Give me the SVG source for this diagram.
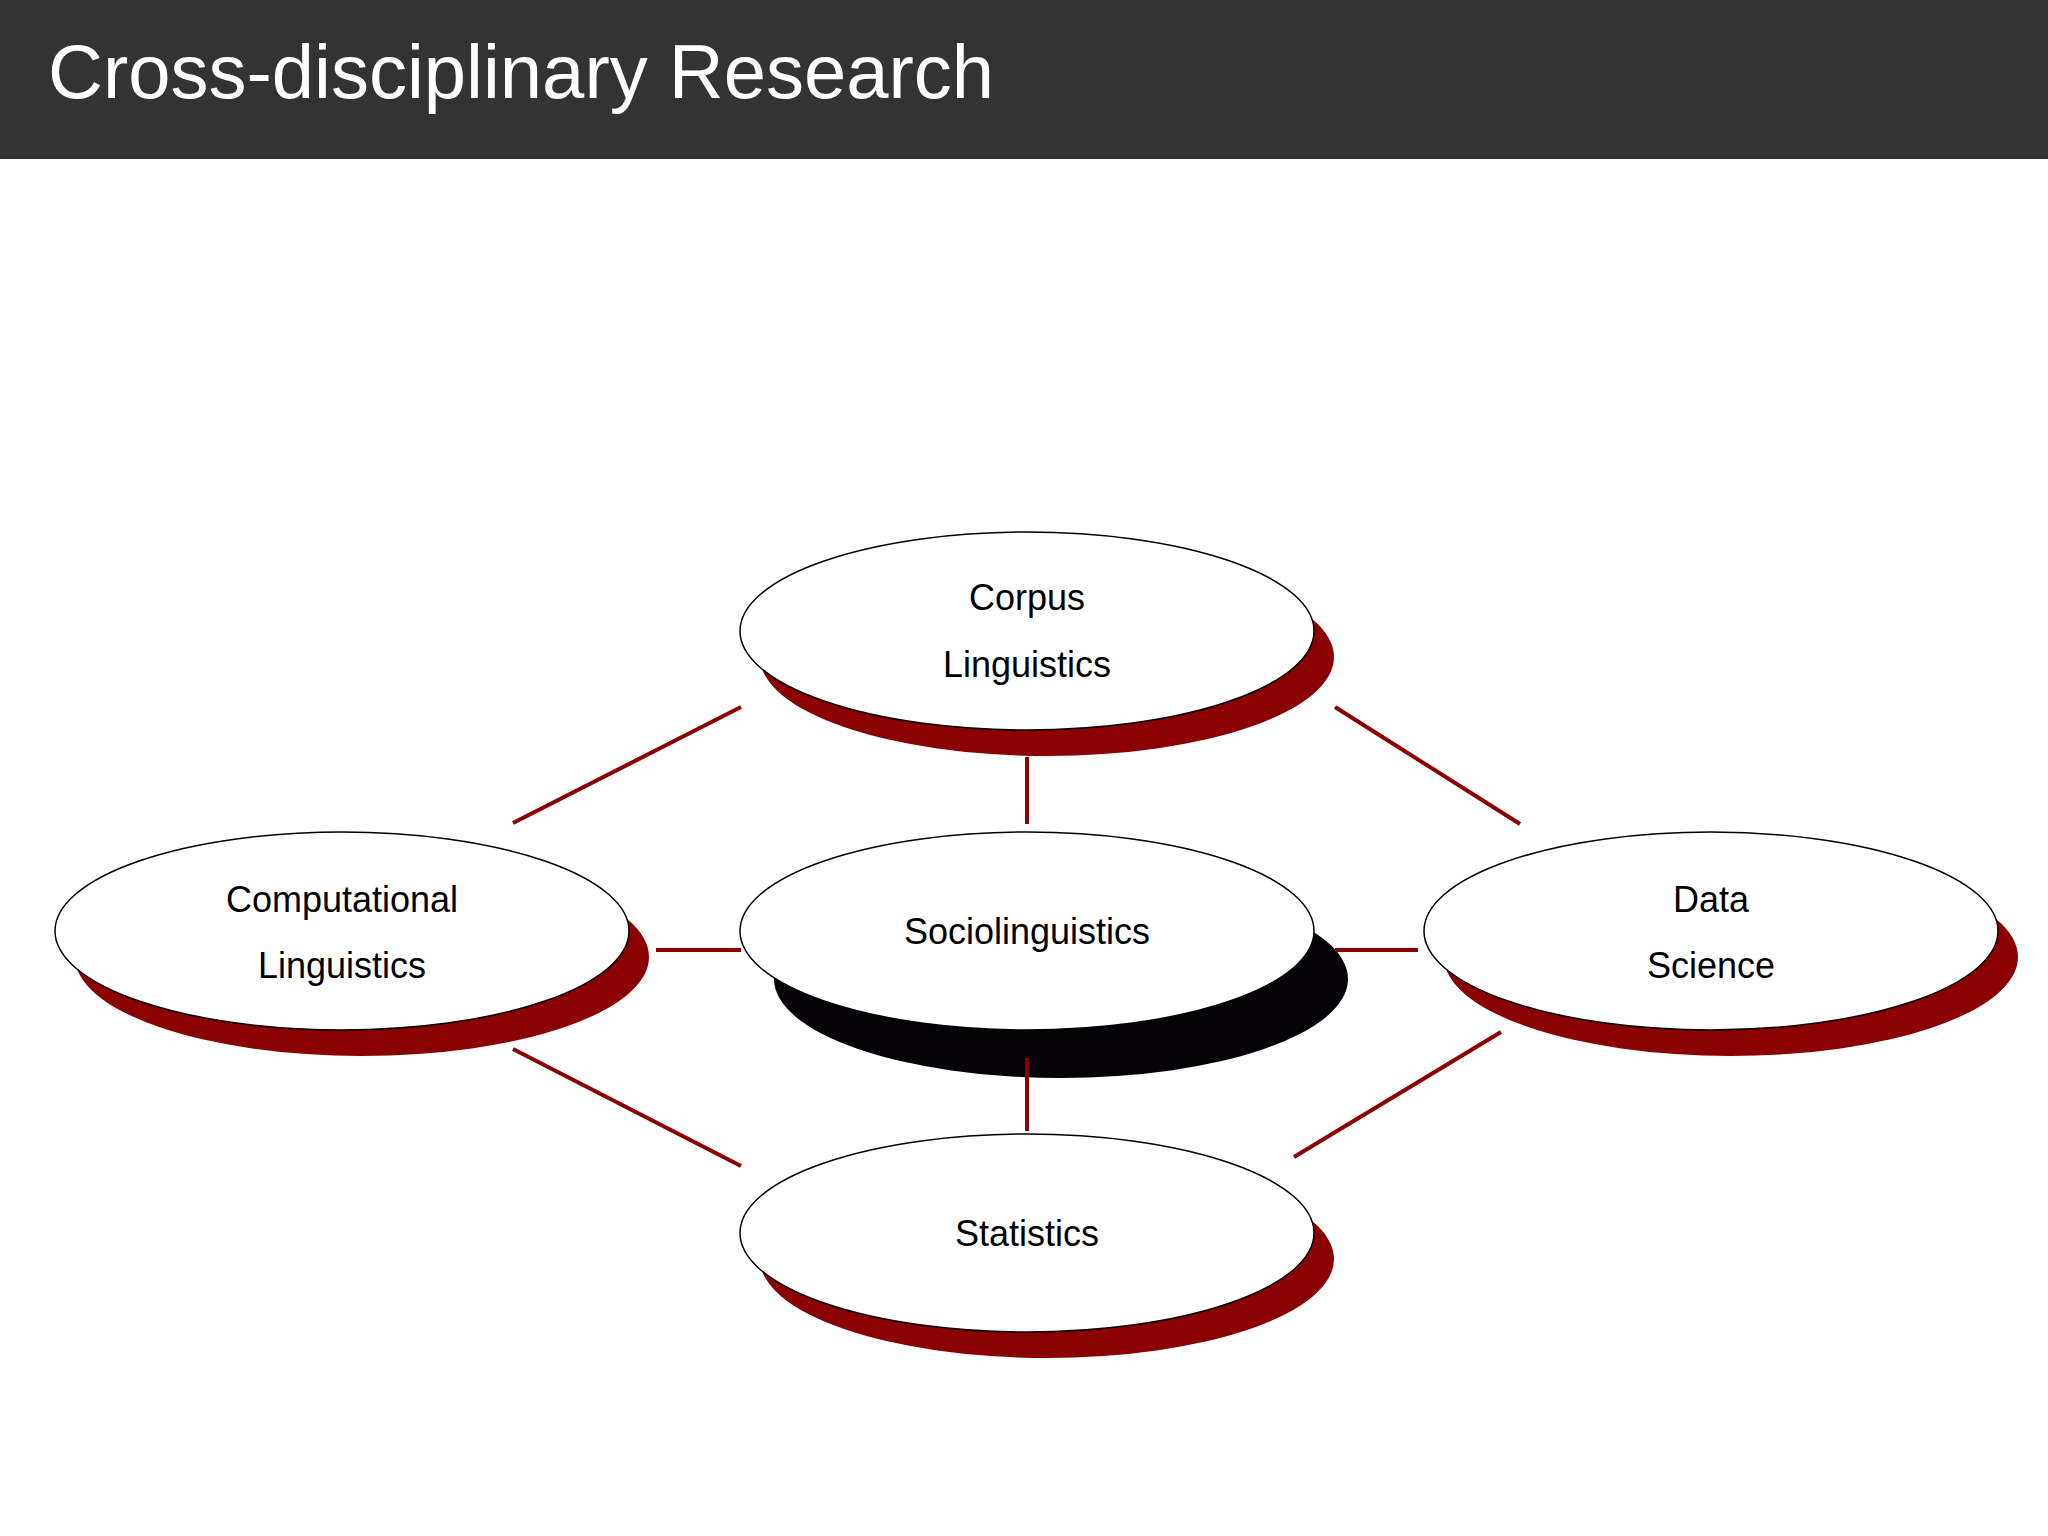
<svg xmlns="http://www.w3.org/2000/svg" width="2048" height="1536" viewBox="0 0 2048 1536">
<style>
.sh{fill:#8b0000}
.el{fill:#fff;stroke:#000;stroke-width:1.5}
.t{font-family:"Liberation Sans",Arial,sans-serif;font-size:36px;text-anchor:middle;fill:#000}
.c line{stroke:#8b0000;stroke-width:4}
</style>
<rect width="2048" height="1536" fill="#fff"/>
<rect width="2048" height="159" fill="#333"/>
<text x="48" y="98" font-family="Liberation Sans,Arial,sans-serif" font-size="76" fill="#fff">Cross-disciplinary Research</text>
<g id="corpus"><ellipse class="sh" cx="1047" cy="657" rx="287" ry="99"/><ellipse class="el" cx="1027" cy="631" rx="287" ry="99"/><text class="t" x="1027" y="610">Corpus</text><text class="t" x="1027" y="677">Linguistics</text></g>
<g id="computational"><ellipse class="sh" cx="362" cy="957" rx="287" ry="99"/><ellipse class="el" cx="342" cy="931" rx="287" ry="99"/><text class="t" x="342" y="912">Computational</text><text class="t" x="342" y="978">Linguistics</text></g>
<g id="socio"><ellipse fill="#050307" cx="1061" cy="979" rx="287" ry="99"/><ellipse class="el" cx="1027" cy="931" rx="287" ry="99"/><text class="t" x="1027" y="944">Sociolinguistics</text></g>
<g id="data"><ellipse class="sh" cx="1731" cy="957" rx="287" ry="99"/><ellipse class="el" cx="1711" cy="931" rx="287" ry="99"/><text class="t" x="1711" y="912">Data</text><text class="t" x="1711" y="978">Science</text></g>
<g id="statistics"><ellipse class="sh" cx="1047" cy="1259" rx="287" ry="99"/><ellipse class="el" cx="1027" cy="1233" rx="287" ry="99"/><text class="t" x="1027" y="1246">Statistics</text></g>
<g class="c" id="connectors">
<line x1="513" y1="823" x2="741" y2="707"/>
<line x1="1027" y1="757" x2="1027" y2="824"/>
<line x1="1335" y1="707" x2="1520" y2="824"/>
<line x1="656" y1="950" x2="741" y2="950"/>
<line x1="1335" y1="950" x2="1418" y2="950"/>
<line x1="513" y1="1049" x2="741" y2="1166"/>
<line x1="1027" y1="1058" x2="1027" y2="1131"/>
<line x1="1501" y1="1032" x2="1294" y2="1157"/>
</g>
</svg>
